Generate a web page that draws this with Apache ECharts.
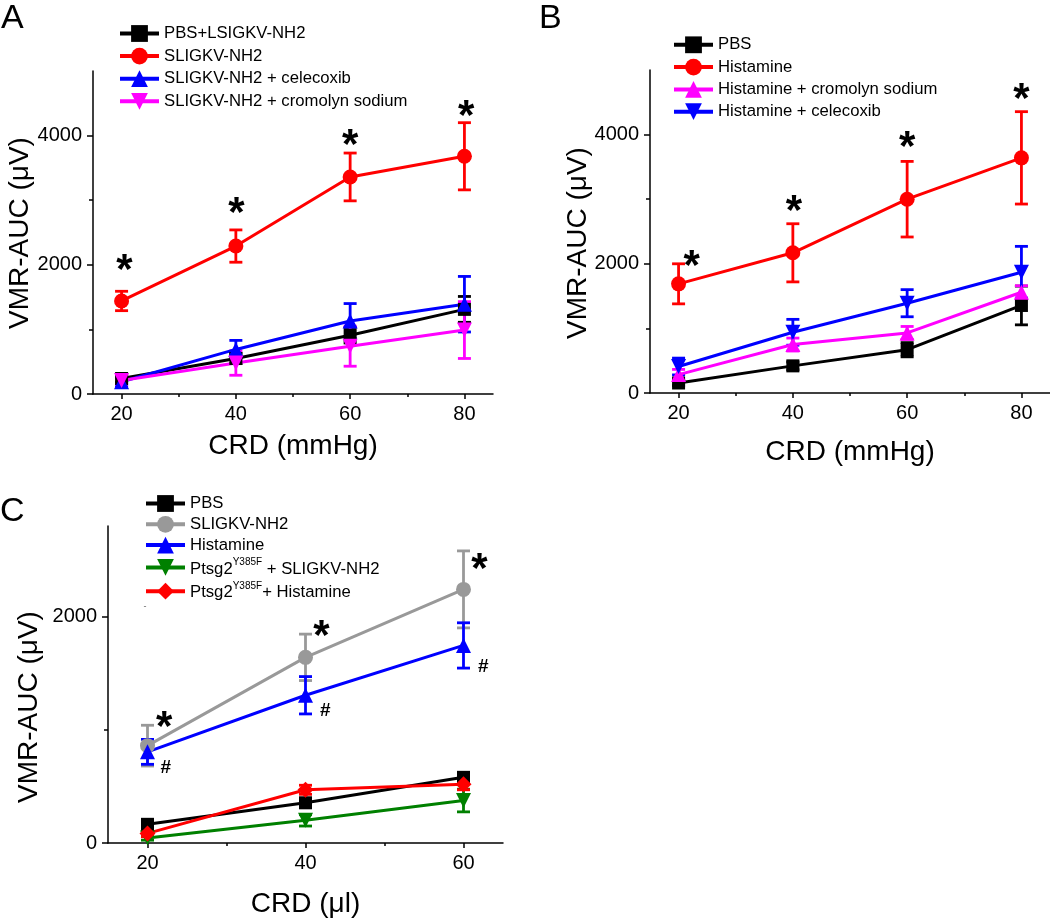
<!DOCTYPE html>
<html><head><meta charset="utf-8">
<script src="https://cdn.jsdelivr.net/npm/echarts@6/dist/echarts.min.js"></script>
<style>html,body{margin:0;padding:0;background:#fff}#c{width:1050px;height:919px}</style>
</head><body><div id="c"></div>
<script>
// ---------- DATA ----------
const xAB = [20, 40, 60, 80];
const xC = [20, 40, 60];
const ticksAB = [20, 40, 60, 80];
const minorAB = [30, 50, 70];
const ticksC = [20, 40, 60];
const minorC = [30, 50];
const yTicksAB = [0, 2000, 4000];
const yMinorAB = [1000, 3000];
const yTicksC = [0, 2000];
const yMinorC = [1000];

const namesA = ['PBS+LSIGKV-NH2', 'SLIGKV-NH2', 'SLIGKV-NH2 + celecoxib', 'SLIGKV-NH2 + cromolyn sodium'];
const A_pbs = [240, 550, 910, 1310],   A_pbsErr = [60, 80, 120, 200];
const A_slig = [1440, 2290, 3360, 3680], A_sligErr = [150, 250, 370, 520];
const A_cele = [190, 690, 1130, 1390],  A_celeErr = [60, 140, 270, 430];
const A_crom = [210, 480, 740, 990],    A_cromErr = [60, 190, 310, 440];
const starsA = [[20.5, 2040], [40.1, 2920], [60, 3975], [80.3, 4420]];

const namesB = ['PBS', 'Histamine', 'Histamine + cromolyn sodium', 'Histamine + celecoxib'];
const B_pbs = [155, 420, 670, 1355],    B_pbsErr = [40, 60, 110, 300];
const B_hist = [1690, 2170, 3000, 3640], B_histErr = [310, 450, 585, 715];
const B_crom = [285, 750, 930, 1560],   B_cromErr = [80, 100, 100, 100];
const B_cele = [410, 940, 1390, 1870],  B_celeErr = [130, 200, 210, 400];
const starsB = [[22.3, 2090], [40.2, 2940], [60, 3930], [80, 4670]];

const namesC = ['PBS', 'SLIGKV-NH2', 'Histamine', 'Ptsg2^Y385F^ + SLIGKV-NH2', 'Ptsg2^Y385F^+ Histamine'];
const C_pbs = [165, 355, 580],     C_pbsErr = [30, 40, 40];
const C_slig = [860, 1640, 2240],  C_sligErr = [180, 205, 340];
const C_hist = [805, 1305, 1745],  C_histErr = [110, 165, 200];
const C_pslig = [45, 200, 375],    C_psligErr = [20, 50, 100];
const C_phist = [85, 470, 520],    C_phistErr = [30, 40, 50];
const starsC = [[22.1, 1092], [42.0, 1898], [62.0, 2483]];
const hashC = [[22.3, 668], [42.5, 1165], [62.5, 1561]];

const axisTitlesY = 'VMR-AUC (\u03bcV)';
const xTitleAB = 'CRD (mmHg)';
const xTitleC = 'CRD (\u03bcl)';

// ---------- STYLE ----------
const FF = 'Liberation Sans, Arial, sans-serif';
const DOWN = 'path://M0,0 L10,0 L5,8.66 Z';
const UP = 'triangle';

function lineS(key, label, xs, ys, color, symbol, size, g) {
  return {
    type: 'line', name: key + '|' + label, xAxisIndex: g * 2, yAxisIndex: g * 2,
    data: xs.map((x, i) => [x, ys[i]]), symbol: symbol, symbolSize: size,
    lineStyle: { color: color, width: 3 }, itemStyle: { color: color },
    showAllSymbol: true, animation: false, z: 3
  };
}
function errS(xs, ys, es, color, g) {
  return {
    type: 'custom', xAxisIndex: g * 2, yAxisIndex: g * 2, silent: true, animation: false, z: 3,
    data: xs.map((x, i) => [x, ys[i], es[i]]), encode: { x: 0, y: 1 },
    renderItem: function (p, api) {
      const x = api.value(0), y = api.value(1), e = api.value(2);
      const t = api.coord([x, y + e]), b = api.coord([x, y - e]);
      const hw = 6.5, st = { stroke: color, lineWidth: 2.8 };
      return { type: 'group', children: [
        { type: 'line', shape: { x1: t[0], y1: t[1], x2: b[0], y2: b[1] }, style: st },
        { type: 'line', shape: { x1: t[0] - hw, y1: t[1], x2: t[0] + hw, y2: t[1] }, style: st },
        { type: 'line', shape: { x1: b[0] - hw, y1: b[1], x2: b[0] + hw, y2: b[1] }, style: st }
      ]};
    }
  };
}
function markS(pts, ch, size, dy, g) {
  return {
    type: 'custom', xAxisIndex: g * 2, yAxisIndex: g * 2, silent: true, animation: false, z: 5,
    data: pts, encode: { x: 0, y: 1 },
    renderItem: function (p, api) {
      const c = api.coord([api.value(0), api.value(1)]);
      return { type: 'text', x: c[0], y: c[1] + dy, style: {
        text: ch, fill: '#000', font: 'bold ' + size + 'px ' + FF,
        align: 'center', verticalAlign: 'middle', textAlign: 'center', textVerticalAlign: 'middle' } };
    }
  };
}
const plain = v => String(v);
function xAxes(g, min, max, ticks, minor, name, gap) {
  const ls = { color: '#000', width: 1.5 };
  return [
    { gridIndex: g, type: 'value', position: 'bottom', min: min, max: max,
      axisLine: { show: true, onZero: false, lineStyle: ls },
      axisTick: { show: true, customValues: ticks, length: 5, lineStyle: ls },
      axisLabel: { customValues: ticks, formatter: plain, fontSize: 20, color: '#000', margin: 10, fontFamily: FF },
      splitLine: { show: false },
      name: name, nameLocation: 'middle', nameGap: gap,
      nameTextStyle: { fontSize: 28, color: '#000', fontFamily: FF } },
    { gridIndex: g, type: 'value', position: 'bottom', min: min, max: max,
      axisLine: { show: false }, axisLabel: { show: false }, splitLine: { show: false },
      axisTick: { show: true, customValues: minor, length: 3, lineStyle: ls } }
  ];
}
function yAxes(g, max, ticks, minor) {
  const ls = { color: '#000', width: 1.5 };
  return [
    { gridIndex: g, type: 'value', position: 'left', min: 0, max: max,
      axisLine: { show: true, onZero: false, lineStyle: ls },
      axisTick: { show: true, customValues: ticks, length: 6, lineStyle: ls },
      axisLabel: { customValues: ticks, formatter: plain, fontSize: 20, color: '#000', margin: 11, fontFamily: FF },
      splitLine: { show: false } },
    { gridIndex: g, type: 'value', position: 'left', min: 0, max: max,
      axisLine: { show: false }, axisLabel: { show: false }, splitLine: { show: false },
      axisTick: { show: true, customValues: minor, length: 4, lineStyle: ls } }
  ];
}
function fmt(n) {
  const t = n.split('|')[1];
  if (t.indexOf('^') >= 0) {
    return '{a|' + t.replace(/\^(.*?)\^/, '}{s|$1}{a|') + '}';
  }
  return t;
}
function legendCfg(key, names, left, top, gap) {
  return {
    data: names.map(n => key + '|' + n), orient: 'vertical', left: left, top: top,
    itemWidth: 39, itemHeight: 21, itemGap: gap, padding: 0, selectedMode: false,
    formatter: fmt,
    lineStyle: { width: 4 },
    textStyle: { fontSize: 16.7, color: '#000', fontFamily: FF,
      rich: {
        a: { fontSize: 16.7, color: '#000', fontFamily: FF, lineHeight: 20, verticalAlign: 'bottom' },
        s: { fontSize: 10, color: '#000', fontFamily: FF, verticalAlign: 'top' }
      } }
  };
}

const series = [
  errS(xAB, A_pbs, A_pbsErr, '#000', 0),    lineS('A', namesA[0], xAB, A_pbs, '#000', 'rect', 13, 0),
  errS(xAB, A_slig, A_sligErr, '#ff0000', 0), lineS('A', namesA[1], xAB, A_slig, '#ff0000', 'circle', 15, 0),
  errS(xAB, A_cele, A_celeErr, '#0000ff', 0), lineS('A', namesA[2], xAB, A_cele, '#0000ff', UP, 15, 0),
  errS(xAB, A_crom, A_cromErr, '#ff00ff', 0), lineS('A', namesA[3], xAB, A_crom, '#ff00ff', DOWN, 15, 0),
  markS(starsA, '*', 42, 9, 0),

  errS(xAB, B_pbs, B_pbsErr, '#000', 1),    lineS('B', namesB[0], xAB, B_pbs, '#000', 'rect', 13, 1),
  errS(xAB, B_hist, B_histErr, '#ff0000', 1), lineS('B', namesB[1], xAB, B_hist, '#ff0000', 'circle', 15, 1),
  errS(xAB, B_crom, B_cromErr, '#ff00ff', 1), lineS('B', namesB[2], xAB, B_crom, '#ff00ff', UP, 15, 1),
  errS(xAB, B_cele, B_celeErr, '#0000ff', 1), lineS('B', namesB[3], xAB, B_cele, '#0000ff', DOWN, 15, 1),
  markS(starsB, '*', 42, 9, 1),

  errS(xC, C_pbs, C_pbsErr, '#000', 2),     lineS('C', namesC[0], xC, C_pbs, '#000', 'rect', 13, 2),
  errS(xC, C_slig, C_sligErr, '#999999', 2), lineS('C', namesC[1], xC, C_slig, '#999999', 'circle', 15, 2),
  errS(xC, C_hist, C_histErr, '#0000ff', 2), lineS('C', namesC[2], xC, C_hist, '#0000ff', UP, 15, 2),
  errS(xC, C_pslig, C_psligErr, '#008000', 2), lineS('C', namesC[3], xC, C_pslig, '#008000', DOWN, 15, 2),
  errS(xC, C_phist, C_phistErr, '#ff0000', 2), lineS('C', namesC[4], xC, C_phist, '#ff0000', 'diamond', 16, 2),
  markS(starsC, '*', 42, 9, 2),
  markS(hashC, '#', 19, 0, 2)
];

const chart = echarts.init(document.getElementById('c'), null, { renderer: 'canvas' });
chart.setOption({
  backgroundColor: '#fff',
  animation: false,
  grid: [
    { left: 93, top: 71, width: 400, height: 323 },
    { left: 650, top: 70, width: 400, height: 323 },
    { left: 108, top: 526, width: 395, height: 318 }
  ],
  xAxis: [].concat(
    xAxes(0, 15, 85, ticksAB, minorAB, xTitleAB, 38),
    xAxes(1, 15, 85, ticksAB, minorAB, xTitleAB, 45),
    xAxes(2, 15, 65, ticksC, minorC, xTitleC, 47)
  ),
  yAxis: [].concat(
    yAxes(0, 5000, yTicksAB, yMinorAB),
    yAxes(1, 5000, yTicksAB, yMinorAB),
    yAxes(2, 2800, yTicksC, yMinorC)
  ),
  legend: [
    legendCfg('A', namesA, 118, 25, 5.6),
    legendCfg('B', namesB, 672, 36.3, 5.3),
    legendCfg('C', namesC, 144, 495, 3.8)
  ],
  graphic: [
    { type: 'text', x: 1, y: 19, style: { text: 'A', font: '34px ' + FF, fill: '#000', verticalAlign: 'middle' } },
    { type: 'text', x: 539, y: 19, style: { text: 'B', font: '34px ' + FF, fill: '#000', verticalAlign: 'middle' } },
    { type: 'text', x: 0, y: 512, style: { text: 'C', font: '34px ' + FF, fill: '#000', verticalAlign: 'middle' } },
    { type: 'text', x: 20, y: 233, rotation: Math.PI / 2, style: { text: axisTitlesY, font: '28px ' + FF, fill: '#000', align: 'center', verticalAlign: 'middle' } },
    { type: 'text', x: 578, y: 243, rotation: Math.PI / 2, style: { text: axisTitlesY, font: '28px ' + FF, fill: '#000', align: 'center', verticalAlign: 'middle' } },
    { type: 'text', x: 29, y: 707, rotation: Math.PI / 2, style: { text: axisTitlesY, font: '28px ' + FF, fill: '#000', align: 'center', verticalAlign: 'middle' } },
    { type: 'text', x: 145, y: 607, style: { text: '-', font: '9px ' + FF, fill: '#666', align: 'center', verticalAlign: 'middle' } }
  ],
  series: series
});
</script></body></html>
